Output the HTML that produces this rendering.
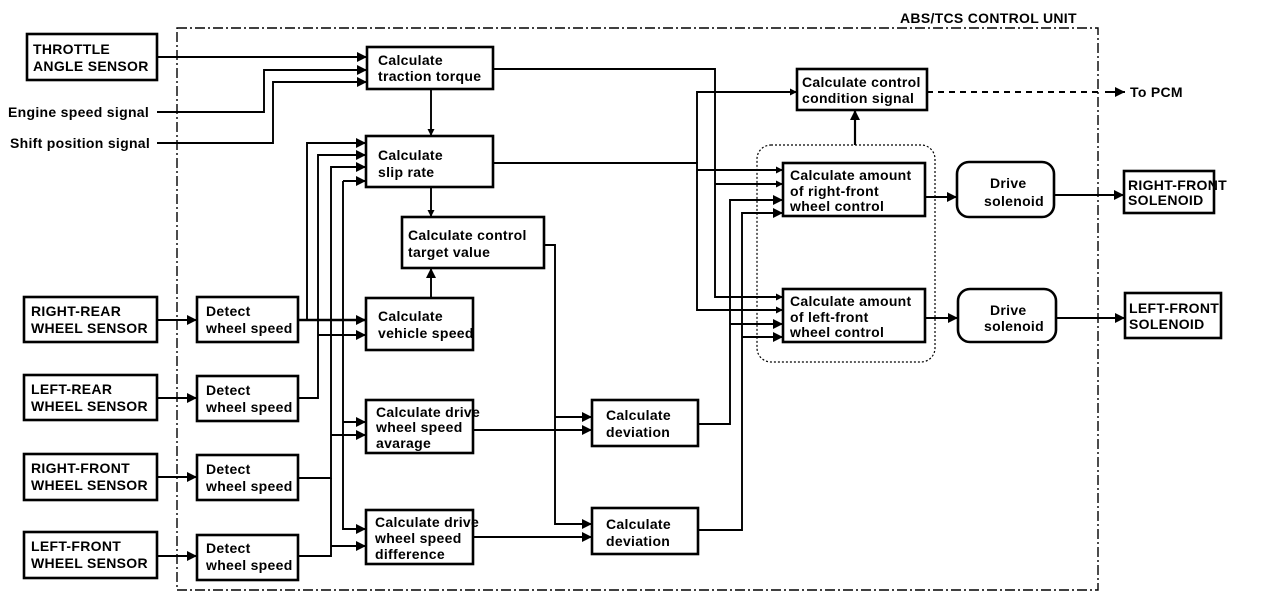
<!DOCTYPE html>
<html><head><meta charset="utf-8"><style>
html,body{margin:0;padding:0;background:#fff;}
svg{display:block;}
text{font-family:"Liberation Sans",Arial,sans-serif;font-weight:bold;font-size:14px;fill:#000;letter-spacing:0.3px;}
.b{fill:#fff;stroke:#000;stroke-width:2.6;}
.l{fill:none;stroke:#000;stroke-width:1.9;}
</style></head><body>
<svg width="1264" height="606" viewBox="0 0 1264 606" xmlns="http://www.w3.org/2000/svg">
<defs><marker id="a" viewBox="0 0 10 10" refX="10" refY="5" markerWidth="8" markerHeight="7" orient="auto" markerUnits="userSpaceOnUse"><path d="M0,0L10,5L0,10z"/></marker>
<marker id="A" viewBox="0 0 10 10" refX="10" refY="5" markerWidth="16" markerHeight="10" orient="auto" markerUnits="userSpaceOnUse"><path d="M0,0L10,5L0,10z"/></marker></defs>

<rect x="177" y="28" width="921" height="562" fill="none" stroke="#000" stroke-width="1.4" stroke-dasharray="10,3,2,3"/>
<text x="900" y="23">ABS/TCS CONTROL UNIT</text>
<rect x="757" y="145" width="178" height="217" rx="14" fill="none" stroke="#000" stroke-width="1.2" stroke-dasharray="2,2"/>

<g class="l">
<path d="M157,57H367" marker-end="url(#A)"/>
<path d="M157,112H264V70H367" marker-end="url(#A)"/>
<path d="M157,143H273V82H367" marker-end="url(#A)"/>
<path d="M431,89V136" marker-end="url(#a)"/>
<path d="M431,187V217" marker-end="url(#a)"/>
<path d="M431,298V268" marker-end="url(#A)"/>
<path d="M157,320H197" marker-end="url(#A)"/>
<path d="M157,398H197" marker-end="url(#A)"/>
<path d="M157,477H197" marker-end="url(#A)"/>
<path d="M157,556H197" marker-end="url(#A)"/>
<path d="M298,320H366" marker-end="url(#A)" stroke-width="2.4"/>
<path d="M307,320V143H366" marker-end="url(#A)"/>
<path d="M298,398H318V155H366" marker-end="url(#A)"/>
<path d="M318,335H366" marker-end="url(#A)"/>
<path d="M298,478H331V167H366" marker-end="url(#A)"/>
<path d="M298,556H331V478"/>
<path d="M331,435H366" marker-end="url(#A)"/>
<path d="M331,546H366" marker-end="url(#A)"/>
<path d="M343,181H366" marker-end="url(#A)"/>
<path d="M343,181V529H366" marker-end="url(#A)"/>
<path d="M343,422H366" marker-end="url(#A)"/>
<path d="M544,245H555V524H592" marker-end="url(#A)"/>
<path d="M555,417H592" marker-end="url(#A)"/>
<path d="M473,430H592" marker-end="url(#A)"/>
<path d="M473,537H592" marker-end="url(#A)"/>
<path d="M493,69H715V297H783" marker-end="url(#a)"/>
<path d="M715,184H783" marker-end="url(#a)"/>
<path d="M493,163H697V310H783" marker-end="url(#a)"/>
<path d="M697,163V92H797" marker-end="url(#a)"/>
<path d="M697,170H783" marker-end="url(#a)"/>
<path d="M698,424H730V200H783" marker-end="url(#A)"/>
<path d="M730,324H783" marker-end="url(#A)"/>
<path d="M698,530H742V213H783" marker-end="url(#A)"/>
<path d="M742,337H783" marker-end="url(#A)"/>
<path d="M855,145V110" marker-end="url(#A)" stroke-width="2.2"/>
<path d="M925,197H957" marker-end="url(#A)"/>
<path d="M925,318H958" marker-end="url(#A)"/>
<path d="M1054,195H1124" marker-end="url(#A)"/>
<path d="M1056,318H1125" marker-end="url(#A)"/>
<path d="M927,92H1100" stroke-dasharray="6,5"/>
<path d="M1105,92H1125" marker-end="url(#A)"/>
</g>
<text x="1130" y="97">To PCM</text>
<text x="8" y="117" letter-spacing="0">Engine speed signal</text>
<text x="10" y="148" letter-spacing="0">Shift position signal</text>

<rect class="b" x="27" y="34" width="130" height="46"/><text x="33" y="54" letter-spacing="0">THROTTLE</text><text x="33" y="71" letter-spacing="-0.2">ANGLE SENSOR</text>
<rect class="b" x="367" y="47" width="126" height="42"/><text x="378" y="65">Calculate</text><text x="378" y="81">traction torque</text>
<rect class="b" x="366" y="136" width="127" height="51"/><text x="378" y="160">Calculate</text><text x="378" y="177">slip rate</text>
<rect class="b" x="402" y="217" width="142" height="51"/><text x="408" y="240">Calculate control</text><text x="408" y="257">target value</text>
<rect class="b" x="366" y="298" width="107" height="52"/><text x="378" y="321">Calculate</text><text x="378" y="338" letter-spacing="0">vehicle speed</text>
<rect class="b" x="366" y="400" width="107" height="53"/><text x="376" y="417" letter-spacing="0">Calculate drive</text><text x="376" y="432">wheel speed</text><text x="376" y="448">avarage</text>
<rect class="b" x="366" y="510" width="107" height="54"/><text x="375" y="527" letter-spacing="0">Calculate drive</text><text x="375" y="543">wheel speed</text><text x="375" y="559">difference</text>
<rect class="b" x="592" y="400" width="106" height="46"/><text x="606" y="420">Calculate</text><text x="606" y="437">deviation</text>
<rect class="b" x="592" y="508" width="106" height="46"/><text x="606" y="529">Calculate</text><text x="606" y="546">deviation</text>
<rect class="b" x="797" y="69" width="130" height="41"/><text x="802" y="87" letter-spacing="-0.2">Calculate control</text><text x="802" y="103">condition signal</text>
<rect class="b" x="783" y="163" width="142" height="53"/><text x="790" y="180" letter-spacing="-0.1">Calculate amount</text><text x="790" y="196">of right-front</text><text x="790" y="211">wheel control</text>
<rect class="b" x="783" y="289" width="142" height="53"/><text x="790" y="306" letter-spacing="-0.1">Calculate amount</text><text x="790" y="322">of left-front</text><text x="790" y="337">wheel control</text>
<rect class="b" x="957" y="162" width="97" height="55" rx="12"/><text x="990" y="188">Drive</text><text x="984" y="206">solenoid</text>
<rect class="b" x="958" y="289" width="98" height="53" rx="12"/><text x="990" y="315">Drive</text><text x="984" y="331">solenoid</text>
<rect class="b" x="1124" y="171" width="90" height="42"/><text x="1128" y="190" letter-spacing="-0.6">RIGHT-FRONT</text><text x="1128" y="205">SOLENOID</text>
<rect class="b" x="1125" y="293" width="96" height="45"/><text x="1129" y="313" letter-spacing="-0.3">LEFT-FRONT</text><text x="1129" y="329">SOLENOID</text>
<rect class="b" x="24" y="297" width="133" height="45"/><text x="31" y="316">RIGHT-REAR</text><text x="31" y="333" letter-spacing="-0.3">WHEEL SENSOR</text>
<rect class="b" x="24" y="375" width="133" height="45"/><text x="31" y="394">LEFT-REAR</text><text x="31" y="411" letter-spacing="-0.3">WHEEL SENSOR</text>
<rect class="b" x="24" y="454" width="133" height="46"/><text x="31" y="473">RIGHT-FRONT</text><text x="31" y="490" letter-spacing="-0.3">WHEEL SENSOR</text>
<rect class="b" x="24" y="532" width="133" height="46"/><text x="31" y="551">LEFT-FRONT</text><text x="31" y="568" letter-spacing="-0.3">WHEEL SENSOR</text>
<rect class="b" x="197" y="297" width="101" height="45"/><text x="206" y="316">Detect</text><text x="206" y="333" letter-spacing="-0.2">wheel speed</text>
<rect class="b" x="197" y="376" width="101" height="45"/><text x="206" y="395">Detect</text><text x="206" y="412" letter-spacing="-0.2">wheel speed</text>
<rect class="b" x="197" y="455" width="101" height="45"/><text x="206" y="474">Detect</text><text x="206" y="491" letter-spacing="-0.2">wheel speed</text>
<rect class="b" x="197" y="535" width="101" height="45"/><text x="206" y="553">Detect</text><text x="206" y="570" letter-spacing="-0.2">wheel speed</text>
</svg>
</body></html>
